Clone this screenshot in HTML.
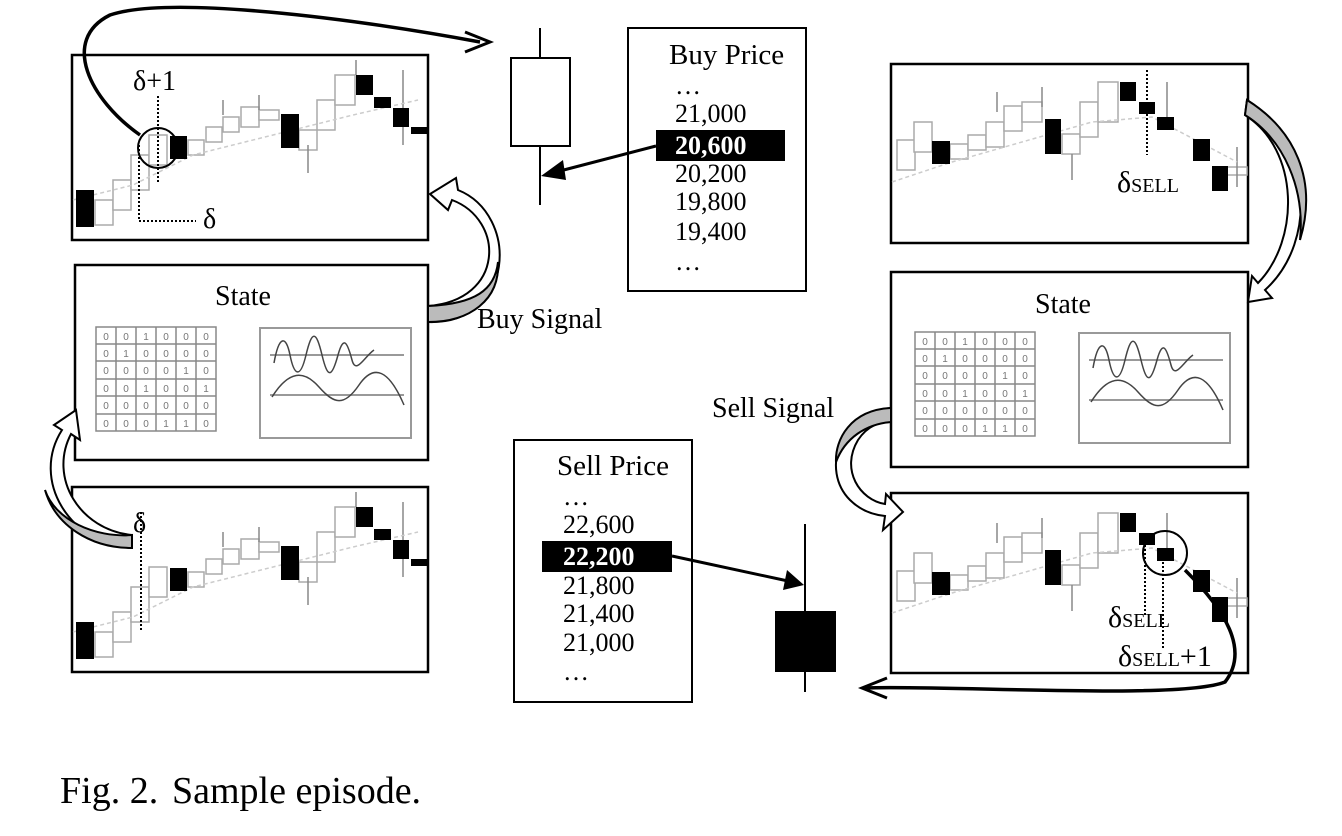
<!DOCTYPE html>
<html><head><meta charset="utf-8"><style>
html,body{margin:0;padding:0;background:#fff;}
svg{display:block;font-family:"Liberation Serif",serif;}
</style></head><body>
<svg width="1342" height="836" viewBox="0 0 1342 836" xmlns="http://www.w3.org/2000/svg">
<defs>
<g id="chartL">
 <g fill="#fff" stroke="#aaa" stroke-width="1.5">
  <rect x="22" y="145" width="18" height="25"/><rect x="40" y="125" width="18" height="30"/>
  <rect x="58" y="100" width="18" height="35"/><rect x="76" y="80" width="18" height="30"/>
  <rect x="115" y="85" width="16" height="15"/><rect x="133" y="72" width="16" height="15"/>
  <rect x="150" y="62" width="16" height="15"/><rect x="168" y="52" width="18" height="20"/>
  <rect x="186" y="55" width="20" height="10"/><rect x="226" y="75" width="18" height="20"/>
  <rect x="244" y="45" width="18" height="30"/><rect x="262" y="20" width="20" height="30"/>
 </g>
 <g stroke="#888" stroke-width="1.5">
  <line x1="235" y1="90" x2="235" y2="118"/><line x1="150" y1="45" x2="150" y2="60"/>
  <line x1="186" y1="40" x2="186" y2="55"/><line x1="330" y1="15" x2="330" y2="90"/>
  <line x1="283" y1="5" x2="283" y2="20"/>
 </g>
 <polyline points="0,145 60,130 120,100 200,80 280,60 345,45" fill="none" stroke="#ccc" stroke-width="1.5" stroke-dasharray="4 3"/>
 <g fill="#000">
  <rect x="3" y="135" width="18" height="37"/><rect x="97" y="81" width="17" height="23"/>
  <rect x="208" y="59" width="18" height="34"/><rect x="283" y="20" width="17" height="20"/>
  <rect x="301" y="42" width="17" height="11"/><rect x="320" y="53" width="16" height="19"/>
  <rect x="338" y="72" width="18" height="7"/>
 </g>
</g>
<g id="chartR">
 <g fill="#fff" stroke="#aaa" stroke-width="1.5">
  <rect x="5" y="78" width="18" height="30"/><rect x="22" y="60" width="18" height="30"/>
  <rect x="58" y="82" width="18" height="15"/><rect x="76" y="73" width="18" height="15"/>
  <rect x="94" y="60" width="18" height="25"/><rect x="112" y="44" width="18" height="25"/>
  <rect x="130" y="40" width="20" height="20"/><rect x="170" y="72" width="18" height="20"/>
  <rect x="188" y="40" width="18" height="35"/><rect x="206" y="20" width="20" height="40"/>
  <rect x="335" y="105" width="20" height="8"/>
 </g>
 <g stroke="#888" stroke-width="1.5">
  <line x1="180" y1="92" x2="180" y2="118"/><line x1="150" y1="25" x2="150" y2="45"/>
  <line x1="105" y1="30" x2="105" y2="50"/><line x1="275" y1="20" x2="275" y2="60"/>
  <line x1="345" y1="85" x2="345" y2="125"/>
 </g>
 <polyline points="0,120 60,100 130,80 200,60 260,55 345,100" fill="none" stroke="#ccc" stroke-width="1.5" stroke-dasharray="4 3"/>
 <g fill="#000">
  <rect x="40" y="79" width="18" height="23"/><rect x="153" y="57" width="16" height="35"/>
  <rect x="228" y="20" width="16" height="19"/><rect x="247" y="40" width="16" height="12"/>
  <rect x="265" y="55" width="17" height="13"/><rect x="301" y="77" width="17" height="22"/>
  <rect x="320" y="104" width="16" height="25"/>
 </g>
</g>
<g id="state">
 <g stroke="#888" stroke-width="1.5" fill="#fff">
  <rect x="22" y="62" width="120" height="104"/>
  <path d="M42 62V166M62 62V166M82 62V166M102 62V166M122 62V166M22 79H142M22 96H142M22 114H142M22 131H142M22 149H142"/>
 </g>
 <g font-size="10" fill="#777" text-anchor="middle" font-family="Liberation Sans,sans-serif">
  <text x="32" y="75">0</text><text x="52" y="75">0</text><text x="72" y="75">1</text><text x="92" y="75">0</text><text x="112" y="75">0</text><text x="132" y="75">0</text>
  <text x="32" y="92">0</text><text x="52" y="92">1</text><text x="72" y="92">0</text><text x="92" y="92">0</text><text x="112" y="92">0</text><text x="132" y="92">0</text>
  <text x="32" y="109">0</text><text x="52" y="109">0</text><text x="72" y="109">0</text><text x="92" y="109">0</text><text x="112" y="109">1</text><text x="132" y="109">0</text>
  <text x="32" y="127">0</text><text x="52" y="127">0</text><text x="72" y="127">1</text><text x="92" y="127">0</text><text x="112" y="127">0</text><text x="132" y="127">1</text>
  <text x="32" y="144">0</text><text x="52" y="144">0</text><text x="72" y="144">0</text><text x="92" y="144">0</text><text x="112" y="144">0</text><text x="132" y="144">0</text>
  <text x="32" y="162">0</text><text x="52" y="162">0</text><text x="72" y="162">0</text><text x="92" y="162">1</text><text x="112" y="162">1</text><text x="132" y="162">0</text>
 </g>
 <rect x="186" y="63" width="151" height="110" fill="#fff" stroke="#999" stroke-width="2"/>
 <path d="M196 90H330M196 130H330" stroke="#999" stroke-width="2"/>
 <path d="M200 98C205 70 212 70 216 90S226 115 232 90S242 65 248 90S258 112 264 90S274 80 278 95S290 92 300 85" fill="none" stroke="#444" stroke-width="1.5"/>
 <path d="M198 132C215 105 230 105 245 122S270 142 285 120S315 105 330 140" fill="none" stroke="#444" stroke-width="1.5"/>
</g>
</defs>

<rect x="72" y="55" width="356" height="185" fill="#fff" stroke="#000" stroke-width="2.5"/>
<use href="#chartL" x="73" y="55"/>
<rect x="72" y="487" width="356" height="185" fill="#fff" stroke="#000" stroke-width="2.5"/>
<use href="#chartL" x="73" y="487"/>
<circle cx="158" cy="148" r="20" fill="none" stroke="#000" stroke-width="2"/>
<path d="M158 96V182M139 145V221H196" fill="none" stroke="#000" stroke-width="2" stroke-dasharray="2 2"/>
<text x="133" y="90" font-size="28">δ+1</text>
<text x="203" y="228" font-size="28">δ</text>
<path d="M141 512V630" stroke="#000" stroke-width="2" stroke-dasharray="2 2"/>
<text x="133" y="532" font-size="28">δ</text>

<rect x="75" y="265" width="353" height="195" fill="#fff" stroke="#000" stroke-width="2.5"/>
<text x="243" y="305" font-size="28" text-anchor="middle">State</text>
<use href="#state" x="74" y="265"/>
<rect x="891" y="272" width="357" height="195" fill="#fff" stroke="#000" stroke-width="2.5"/>
<text x="1063" y="313" font-size="28" text-anchor="middle">State</text>
<use href="#state" x="893" y="270"/>

<rect x="891" y="64" width="357" height="179" fill="#fff" stroke="#000" stroke-width="2.5"/>
<use href="#chartR" x="892" y="62"/>
<path d="M1147 70V155" stroke="#000" stroke-width="2" stroke-dasharray="2 2"/>
<text x="1117" y="192" font-size="30">δ<tspan font-size="20">SELL</tspan></text>
<rect x="891" y="493" width="357" height="180" fill="#fff" stroke="#000" stroke-width="2.5"/>
<use href="#chartR" x="892" y="493"/>
<circle cx="1165" cy="553" r="22" fill="none" stroke="#000" stroke-width="2"/>
<path d="M1145 545V615M1163 562V648" stroke="#000" stroke-width="2" stroke-dasharray="2 2"/>
<text x="1108" y="627" font-size="30">δ<tspan font-size="20">SELL</tspan></text>
<text x="1118" y="666" font-size="30">δ<tspan font-size="20">SELL</tspan>+1</text>

<line x1="540" y1="28" x2="540" y2="205" stroke="#000" stroke-width="2"/>
<rect x="511" y="58" width="59" height="88" fill="#fff" stroke="#000" stroke-width="2"/>
<rect x="628" y="28" width="178" height="263" fill="#fff" stroke="#000" stroke-width="2"/>
<g font-size="26">
<text x="669" y="64" font-size="29">Buy Price</text>
<text x="675" y="94">…</text>
<text x="675" y="122">21,000</text>
<rect x="656" y="130" width="129" height="31" fill="#000"/>
<text x="675" y="154" fill="#fff" font-weight="bold">20,600</text>
<text x="675" y="182">20,200</text>
<text x="675" y="210">19,800</text>
<text x="675" y="240">19,400</text>
<text x="675" y="270">…</text>
</g>
<line x1="656" y1="146" x2="556" y2="172" stroke="#000" stroke-width="3"/>
<polygon points="541,176 563,160 566,180" fill="#000"/>

<rect x="514" y="440" width="178" height="262" fill="#fff" stroke="#000" stroke-width="2"/>
<g font-size="26">
<text x="557" y="475" font-size="29">Sell Price</text>
<text x="563" y="505">…</text>
<text x="563" y="533">22,600</text>
<rect x="542" y="541" width="130" height="31" fill="#000"/>
<text x="563" y="565" fill="#fff" font-weight="bold">22,200</text>
<text x="563" y="594">21,800</text>
<text x="563" y="622">21,400</text>
<text x="563" y="651">21,000</text>
<text x="563" y="680">…</text>
</g>
<line x1="805" y1="524" x2="805" y2="692" stroke="#000" stroke-width="2"/>
<rect x="775" y="611" width="61" height="61" fill="#000"/>
<line x1="672" y1="556" x2="788" y2="581" stroke="#000" stroke-width="3"/>
<polygon points="804,585 783,590 787,570" fill="#000"/>

<path d="M140 135C90 100 60 40 110 15C170 -5 350 18 480 42" fill="none" stroke="#000" stroke-width="3.5"/>
<path d="M465 32L490 42L465 52" fill="none" stroke="#000" stroke-width="3"/>
<path d="M1185 570C1225 610 1250 650 1225 682C1180 700 950 685 865 688" fill="none" stroke="#000" stroke-width="3.5"/>
<path d="M887 678L862 688L887 698" fill="none" stroke="#000" stroke-width="3"/>

<g stroke="#000" stroke-width="2" fill="#fff">
 <path d="M428 306C505 300 505 220 452 200L448 210L430 194L456 178L458 190C520 215 515 325 428 322Z" fill="#fff"/>
 <path d="M428 306C475 304 495 290 498 262C500 300 470 322 428 322Z" fill="#bbb"/>
 <path d="M132 548C70 545 30 480 62 430L54 425L76 410L80 440L71 434C48 478 80 530 132 535Z"/>
 <path d="M132 548C90 548 55 525 45 490C55 520 95 538 132 535Z" fill="#bbb"/>
 <path d="M891 408C840 412 820 470 850 500C862 512 875 515 885 516L883 530L903 512L886 494L885 504C860 500 840 470 858 440C868 425 880 422 891 422Z"/>
 <path d="M891 408C850 410 835 440 836 462C845 438 866 424 891 422Z" fill="#bbb"/>
 <path d="M1247 100C1310 140 1320 240 1265 290L1272 298L1248 302L1252 276L1258 283C1300 240 1300 150 1245 115Z"/>
 <path d="M1247 100C1295 130 1318 180 1300 240C1305 190 1285 140 1245 115Z" fill="#bbb"/>
</g>

<text x="477" y="328" font-size="28">Buy Signal</text>
<text x="712" y="417" font-size="28">Sell Signal</text>

<text x="60" y="803" font-size="38">Fig. 2.</text>
<text x="172" y="803" font-size="38">Sample episode.</text>
</svg>
</body></html>
